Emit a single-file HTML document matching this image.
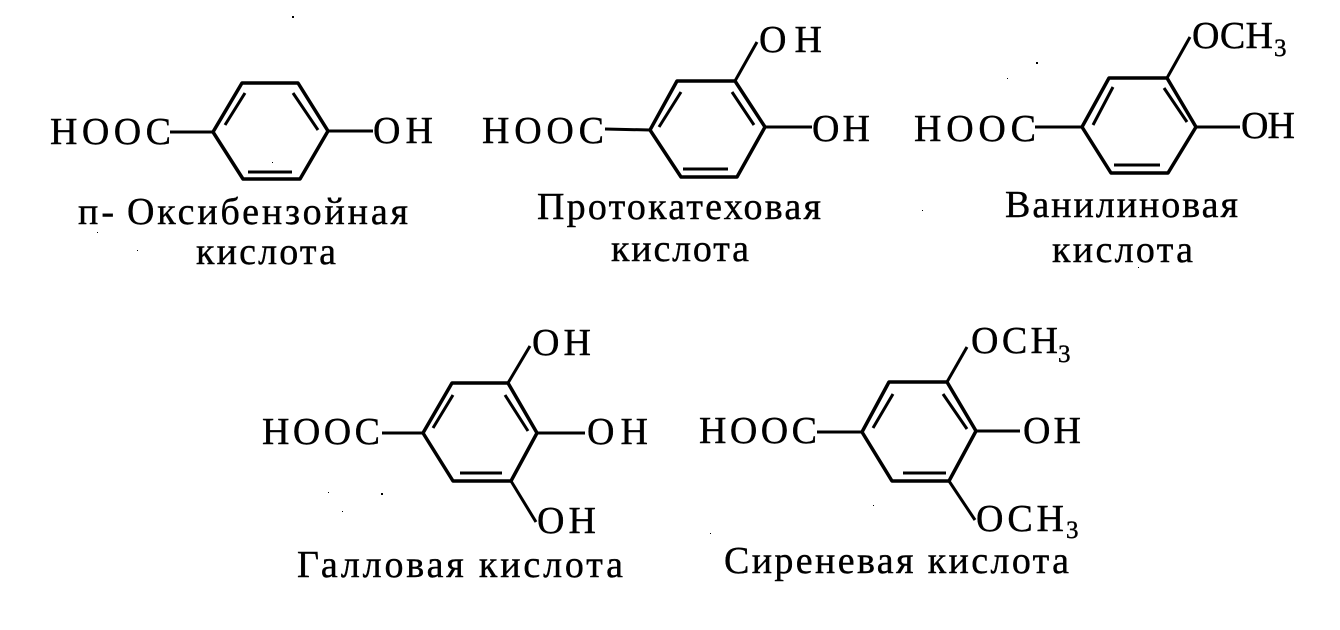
<!DOCTYPE html>
<html><head><meta charset="utf-8"><style>
html,body{margin:0;padding:0;background:#fff}
svg{display:block}
text{font-family:"Liberation Serif",serif;font-size:38px;fill:#000;stroke:#000;stroke-width:.4px}
text.s{font-size:25px}
line{stroke:#000;stroke-width:3;fill:none}
polygon{stroke:#000;stroke-width:3.5;fill:none;stroke-linejoin:round}
rect{fill:#000}
</style></head><body>
<svg width="1340" height="630" viewBox="0 0 1340 630" xmlns="http://www.w3.org/2000/svg">
<!-- molecule 1 -->
<polygon points="213,132 242,83 298,83 328,131 300,179 243,179"/>
<line x1="245" y1="93" x2="225" y2="125"/><line x1="293" y1="93" x2="318" y2="130"/><line x1="248" y1="172" x2="292" y2="172"/>
<line x1="170" y1="132" x2="213" y2="132"/><line x1="328" y1="131" x2="373" y2="131"/>
<text x="50" y="144" textLength="121" lengthAdjust="spacing">HOOC</text>
<text x="373" y="143" textLength="60" lengthAdjust="spacing">OH</text>
<text x="78" y="224" style="letter-spacing:3px">п-</text>
<text x="127" y="224" textLength="281" lengthAdjust="spacing">Оксибензойная</text>
<text x="196" y="264" textLength="140" lengthAdjust="spacing">кислота</text>
<!-- molecule 2 -->
<polygon points="650,130 677,81 735,81 765,127 737,177 681,177"/>
<line x1="681" y1="92" x2="659" y2="127"/><line x1="732" y1="92" x2="754" y2="125"/><line x1="683" y1="169" x2="728" y2="169"/>
<line x1="605" y1="129" x2="650" y2="130"/><line x1="765" y1="127" x2="812" y2="127"/><line x1="735" y1="81" x2="757" y2="42"/>
<text x="482" y="143" textLength="122" lengthAdjust="spacing">HOOC</text>
<text x="812" y="141" textLength="58" lengthAdjust="spacing">OH</text>
<text x="759" y="52" textLength="63" lengthAdjust="spacing">OH</text>
<text x="537" y="219" textLength="284" lengthAdjust="spacing">Протокатеховая</text>
<text x="611" y="261" textLength="138" lengthAdjust="spacing">кислота</text>
<!-- molecule 3 -->
<polygon points="1082,127 1109,78 1167,78 1196,127 1168,173 1111,173"/>
<line x1="1113" y1="87" x2="1093" y2="125"/><line x1="1164" y1="88" x2="1187" y2="122"/><line x1="1114" y1="165" x2="1160" y2="165"/>
<line x1="1035" y1="127" x2="1082" y2="127"/><line x1="1196" y1="127" x2="1240" y2="127"/><line x1="1167" y1="78" x2="1190" y2="37"/>
<text x="914" y="141" textLength="122" lengthAdjust="spacing">HOOC</text>
<text x="1241" y="138" textLength="54" lengthAdjust="spacing">OH</text>
<text x="1192" y="48" textLength="81" lengthAdjust="spacing">OCH</text>
<text class="s" x="1274" y="56">3</text>
<text x="1005" y="217" textLength="233" lengthAdjust="spacing">Ванилиновая</text>
<text x="1052" y="262" textLength="141" lengthAdjust="spacing">кислота</text>
<!-- molecule 4 -->
<polygon points="423,433 452,383 508,383 537,433 511,481 453,481"/>
<line x1="453" y1="395" x2="433" y2="428"/><line x1="505" y1="395" x2="528" y2="431"/><line x1="460" y1="473" x2="502" y2="473"/>
<line x1="382" y1="433" x2="423" y2="433"/><line x1="537" y1="433" x2="585" y2="433"/><line x1="508" y1="383" x2="530" y2="346"/><line x1="511" y1="481" x2="536" y2="522"/>
<text x="262" y="444" textLength="118" lengthAdjust="spacing">HOOC</text>
<text x="587" y="444" textLength="61" lengthAdjust="spacing">OH</text>
<text x="532" y="355" textLength="59" lengthAdjust="spacing">OH</text>
<text x="537" y="533" textLength="59" lengthAdjust="spacing">OH</text>
<text x="297" y="577" textLength="326" lengthAdjust="spacing">Галловая кислота</text>
<!-- molecule 5 -->
<polygon points="862,432 889,382 947,382 976,431 949,481 892,481"/>
<line x1="893" y1="394" x2="873" y2="428"/><line x1="943" y1="394" x2="967" y2="429"/><line x1="903" y1="473" x2="946" y2="473"/>
<line x1="817" y1="432" x2="862" y2="432"/><line x1="976" y1="431" x2="1020" y2="431"/><line x1="947" y1="382" x2="967" y2="347"/><line x1="949" y1="481" x2="975" y2="520"/>
<text x="699" y="443" textLength="118" lengthAdjust="spacing">HOOC</text>
<text x="1023" y="443" textLength="58" lengthAdjust="spacing">OH</text>
<text x="971" y="353" textLength="87" lengthAdjust="spacing">OCH</text>
<text class="s" x="1058" y="362">3</text>
<text x="976" y="531" textLength="88" lengthAdjust="spacing">OCH</text>
<text class="s" x="1066" y="538">3</text>
<text x="724" y="573" textLength="345" lengthAdjust="spacing">Сиреневая кислота</text>
<!-- specks -->
<rect x="292" y="16" width="2" height="2"/><rect x="1036" y="62" width="2" height="2"/><rect x="1007" y="78" width="1" height="1"/>
<rect x="922" y="210" width="1" height="1"/><rect x="1138" y="267" width="1" height="1"/><rect x="381" y="493" width="2" height="2"/>
<rect x="328" y="492" width="1" height="1"/><rect x="342" y="511" width="1" height="1"/><rect x="137" y="250" width="1" height="1"/>
<rect x="97" y="232" width="1" height="1"/><rect x="272" y="162" width="1" height="1"/><rect x="873" y="505" width="1" height="1"/>
<rect x="710" y="533" width="1" height="1"/>
</svg>
</body></html>
